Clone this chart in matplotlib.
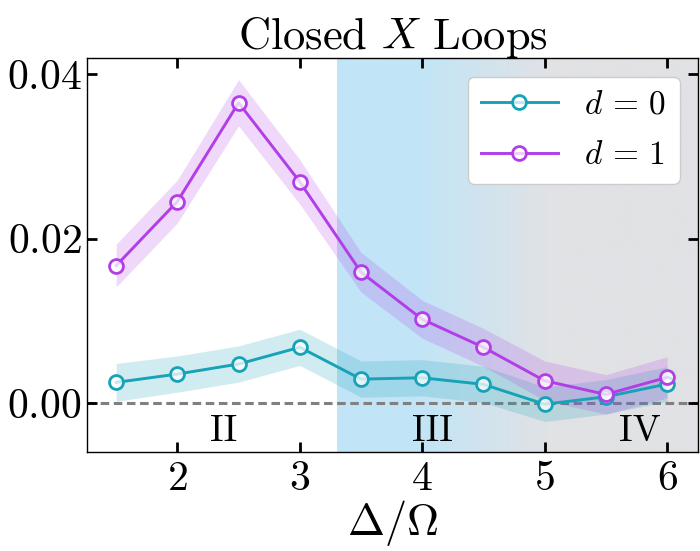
import numpy as np
import matplotlib
matplotlib.use("Agg")
import matplotlib.pyplot as plt
from matplotlib.colors import to_rgb

plt.rcParams["font.family"] = "serif"
plt.rcParams["font.serif"] = ["cmr10", "DejaVu Serif"]
plt.rcParams["mathtext.fontset"] = "cm"
plt.rcParams["axes.unicode_minus"] = False

# Data
delta_over_omega = [1.5, 2.0, 2.5, 3.0, 3.5, 4.0, 4.5, 5.0, 5.5, 6.0]
loops_d0 = [0.00255, 0.00356, 0.00478, 0.00681, 0.00295, 0.00311, 0.00231, -0.0001, 0.0008, 0.00235]
err_d0 = [0.0023, 0.0022, 0.0022, 0.0022, 0.0022, 0.0022, 0.0022, 0.0021, 0.0021, 0.0021]
loops_d1 = [0.01673, 0.02451, 0.0365, 0.0269, 0.01593, 0.01021, 0.00681, 0.00275, 0.00109, 0.00316]
err_d1 = [0.0026, 0.0026, 0.0028, 0.0027, 0.0024, 0.0023, 0.0023, 0.0024, 0.0024, 0.0025]

xticks = [2, 3, 4, 5, 6]
xtick_labels = ["$2$", "$3$", "$4$", "$5$", "$6$"]
yticks = [0.0, 0.02, 0.04]
ytick_labels = ["$0.00$", "$0.02$", "$0.04$"]

region_names = ["II", "III", "IV"]
region_x = [2.38, 4.08, 5.78]

teal = "#17a2b8"
purple = "#b13ee6"

xlim = (1.262, 6.253)
ylim = (-0.0059, 0.0419)

fig = plt.figure(figsize=(7.0, 5.51), dpi=100)
ax = fig.add_axes([0.1243, 0.1797, 0.8729, 0.7145])

# shaded phase background: blue fading into gray
blue = np.array(to_rgb("#c1e5f7"))
gray = np.array(to_rgb("#e1e2e5"))
x0, x1 = 3.30, xlim[1]
xs = np.linspace(x0, x1, 400)
t = np.clip((xs - 3.95) / (5.05 - 3.95), 0, 1)
grad = (1 - t)[:, None] * blue + t[:, None] * gray
ax.imshow(grad[None, :, :], extent=[x0, x1, ylim[0], ylim[1]], aspect="auto",
          interpolation="bilinear", zorder=0)

ax.axhline(0, color="#808080", lw=2.2, ls=(0, (2.8, 1.5)), zorder=1)

x = np.array(delta_over_omega)
for y, e, c, lab in [(loops_d0, err_d0, teal, r"$d\,=\,0$"),
                     (loops_d1, err_d1, purple, r"$d\,=\,1$")]:
    y = np.array(y)
    e = np.array(e)
    ax.fill_between(x, y - e, y + e, color=c, alpha=0.2, lw=0, zorder=2)
    ax.plot(x, y, color=c, lw=2.1, marker="o", ms=10, mew=2.0,
            mfc=(1, 1, 1, 0.75), mec=c, label=lab, zorder=3)

for name, xr in zip(region_names, region_x):
    ax.text(xr, -0.00335, name, ha="center", va="center", fontsize=27, zorder=4)

ax.set_xlim(*xlim)
ax.set_ylim(*ylim)
ax.set_xticks(xticks, labels=xtick_labels)
ax.set_yticks(yticks, labels=ytick_labels)
ax.tick_params(direction="in", top=True, right=True, length=7, width=2,
               labelsize=30)
ax.tick_params(axis="x", pad=6)
ax.tick_params(axis="y", pad=4)
for s in ax.spines.values():
    s.set_linewidth(1.0)

ax.set_xlabel(r"$\Delta/\Omega$", fontsize=32, labelpad=0)
ax.set_title(r"Closed $X$ Loops", fontsize=32, pad=7)

leg = ax.legend(loc="upper right", fontsize=24, frameon=True, fancybox=True,
                handlelength=2.3, borderpad=0.4, labelspacing=0.65,
                handletextpad=0.8, borderaxespad=0.55)
leg.get_frame().set_edgecolor("#cccccc")
leg.get_frame().set_alpha(1.0)
leg.set_zorder(5)

fig.savefig("out.png", dpi=100)
